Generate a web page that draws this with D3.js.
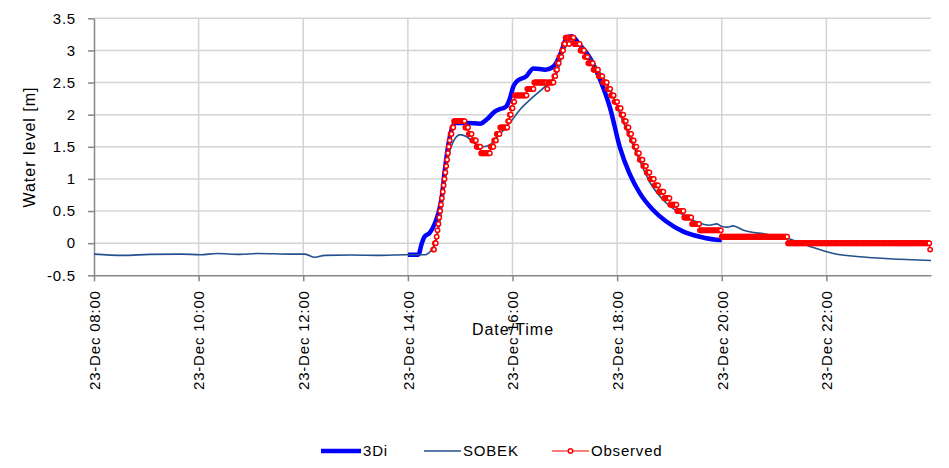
<!DOCTYPE html>
<html>
<head>
<meta charset="utf-8">
<script src="https://cdn.jsdelivr.net/npm/d3@7/dist/d3.min.js"></script>
<style>
  html, body { margin: 0; padding: 0; background: #fff; }
  svg { display: block; font-family: "Liberation Sans", Arial, sans-serif; }
</style>
</head>
<body>
<svg id="chart" width="949" height="468"></svg>
<script>
// ---------------- DATA ----------------
const xTickTimes = ["08:00", "10:00", "12:00", "14:00", "16:00", "18:00", "20:00", "22:00"];
const yTickValues = [-0.5, 0, 0.5, 1, 1.5, 2, 2.5, 3, 3.5];

// 3Di model
const times3Di = ["14:00","14:12","14:16","14:19","14:25","14:31","14:35","14:39","14:42","14:46","14:50","14:54",
  "15:07","15:23","15:30","15:40","15:46","15:49","15:53","15:57","16:01","16:05","16:16","16:24","16:38","16:46",
  "16:56","17:00","17:04","17:08","17:17","17:29","17:40","17:52","18:03","18:14","18:26","18:41","18:56","19:16",
  "19:35","19:58","20:00"];
const values3Di = [-0.18,-0.18,0.0,0.10,0.16,0.31,0.47,0.73,1.09,1.50,1.76,1.87,
  1.87,1.86,1.92,2.05,2.09,2.10,2.13,2.25,2.44,2.52,2.60,2.72,2.70,2.74,
  2.98,3.14,3.21,3.22,3.09,2.88,2.56,2.10,1.50,1.09,0.78,0.52,0.34,0.18,
  0.10,0.05,0.05];

// SOBEK model
const timesSobek = ["08:00","08:33","09:04","09:40","10:02","10:21","10:47","11:08","11:45","12:02","12:13","12:25",
  "12:54","13:28","13:57","14:20","14:24","14:29","14:37","14:42","14:46","14:52","15:00","15:07","15:19","15:26",
  "15:34","15:45","15:57","16:08","16:24","16:39","16:51","16:58","17:04","17:10","17:17","17:29","17:40","17:52",
  "18:03","18:14","18:26","18:37","18:56","19:16","19:35","19:46","19:54","20:00","20:07","20:13","20:25","20:51",
  "21:14","21:41","22:08","22:46","23:24","24:00"];
const valuesSobek = [-0.17,-0.19,-0.175,-0.17,-0.18,-0.16,-0.175,-0.16,-0.17,-0.17,-0.22,-0.19,
  -0.185,-0.19,-0.18,-0.18,-0.15,-0.06,0.36,0.88,1.30,1.58,1.69,1.66,1.53,1.50,
  1.53,1.69,1.87,2.07,2.28,2.46,2.65,2.96,3.12,3.14,3.11,2.88,2.66,2.40,
  2.02,1.66,1.28,0.96,0.63,0.44,0.31,0.28,0.30,0.26,0.25,0.27,0.20,0.14,
  0.08,-0.05,-0.16,-0.22,-0.25,-0.27];

// Observed gauge: recorded every minute, stored as the times at which the reading changed
const obsChangeTimes = ["14:29","14:31","14:33","14:34","14:35","14:36","14:37","14:38","14:39","14:40","14:41",
  "14:42","14:43","14:44","14:45","14:46","14:47","14:48","14:49","14:51","14:53","15:06","15:10","15:14","15:19",
  "15:24","15:35","15:39","15:42","15:46","15:55","15:57","15:59","16:01","16:03","16:17","16:25","16:40","16:41",
  "16:48","16:50","16:52","16:54","16:57","16:59","17:01","17:05","17:06","17:11","17:18","17:23","17:27","17:33",
  "17:39","17:44","17:49","17:53","17:57","18:01","18:05","18:08","18:11","18:14","18:17","18:20","18:23","18:26",
  "18:30","18:34","18:38","18:43","18:48","18:54","19:01","19:09","19:17","19:26","19:35","20:00","21:16","23:59"];
const obsLevels = [-0.1,0.0,0.1,0.2,0.3,0.4,0.5,0.6,0.7,0.8,0.9,
  1.0,1.1,1.2,1.3,1.4,1.5,1.6,1.7,1.8,1.9,1.8,1.7,1.6,1.5,
  1.4,1.5,1.6,1.7,1.8,1.9,2.0,2.1,2.2,2.3,2.4,2.5,2.4,2.5,
  2.6,2.7,2.8,2.9,3.0,3.1,3.2,3.1,3.2,3.1,3.0,2.9,2.8,2.7,
  2.6,2.5,2.4,2.3,2.2,2.1,2.0,1.9,1.8,1.7,1.6,1.5,1.4,1.3,
  1.2,1.1,1.0,0.9,0.8,0.7,0.6,0.5,0.4,0.3,0.2,0.1,0.0,-0.1];
const obsEndTime = "23:59";
const obsIntervalMinutes = 1;

const seriesNames = ["3Di", "SOBEK", "Observed"];

// ---------------- BUILD ----------------
const parseT = s => { const [h, m] = s.split(":").map(Number); return new Date(2013, 11, 23, h, m); };
const fmtTick = d3.timeFormat("%d-%b %H:%M");

const data3Di = times3Di.map((t, i) => ({ t: parseT(t), v: values3Di[i] }));
const dataSobek = timesSobek.map((t, i) => ({ t: parseT(t), v: valuesSobek[i] }));
const obsChanges = obsChangeTimes.map((t, i) => ({ t: parseT(t), v: obsLevels[i] }));
const dataObs = [];
{
  const start = obsChanges[0].t, end = parseT(obsEndTime);
  let k = 0;
  for (let d = new Date(start); d <= end; d = d3.timeMinute.offset(d, obsIntervalMinutes)) {
    while (k + 1 < obsChanges.length && obsChanges[k + 1].t <= d) k++;
    dataObs.push({ t: new Date(d), v: obsChanges[k].v });
  }
}

const svg = d3.select("#chart");
const pLeft = 94, pRight = 931, pTop = 18.3, pBottom = 275.3;

const x = d3.scaleTime().domain([parseT("08:00"), parseT("24:00")]).range([pLeft, pRight]);
const y = d3.scaleLinear().domain([-0.5, 3.5]).range([pBottom, pTop]);

const gridColor = "#d4d4d4";
const axisColor = "#868686";

// gridlines
svg.append("g").selectAll("line").data(yTickValues.filter(v => v > -0.5)).join("line")
  .attr("x1", pLeft).attr("x2", pRight).attr("y1", d => y(d)).attr("y2", d => y(d))
  .attr("stroke", gridColor).attr("stroke-width", 1.5);
svg.append("g").selectAll("line").data(xTickTimes.slice(1).map(parseT)).join("line")
  .attr("x1", d => x(d)).attr("x2", d => x(d)).attr("y1", pTop).attr("y2", pBottom)
  .attr("stroke", gridColor).attr("stroke-width", 1.5);

// axes
const yAxis = svg.append("g").attr("transform", `translate(${pLeft},0)`)
  .call(d3.axisLeft(y).tickValues(yTickValues).tickSize(6).tickSizeOuter(0).tickPadding(12).tickFormat(d => String(d)));
const xAxis = svg.append("g").attr("transform", `translate(0,${pBottom})`)
  .call(d3.axisBottom(x).tickValues(xTickTimes.map(parseT)).tickSize(6).tickSizeOuter(0).tickFormat(fmtTick));
[yAxis, xAxis].forEach(g => {
  g.select(".domain").attr("stroke", axisColor).attr("stroke-width", 1.5);
  g.selectAll(".tick line").attr("stroke", axisColor).attr("stroke-width", 1.5);
  g.selectAll("text").attr("fill", "#000").style("font-size", "15px").style("letter-spacing", "0.8px")
    .style("font-family", '"Liberation Sans", Arial, sans-serif');
});
xAxis.selectAll(".tick text")
  .attr("transform", "rotate(-90)")
  .attr("text-anchor", "end")
  .attr("x", -15).attr("y", 0).attr("dy", "0.35em");

// axis titles
svg.append("text").attr("transform", "translate(29,147) rotate(-90)")
  .attr("text-anchor", "middle").attr("dy", "0.35em")
  .style("font-size", "16px").style("letter-spacing", "1px").attr("fill", "#000")
  .text("Water level [m]");
svg.append("text").attr("x", 513).attr("y", 329).attr("text-anchor", "middle").attr("dy", "0.35em")
  .style("font-size", "16px").style("letter-spacing", "1px").attr("fill", "#000")
  .text("Date/Time");

// series
const smoothLine = d3.line().curve(d3.curveMonotoneX).x(d => x(d.t)).y(d => y(d.v));
const line = d3.line().x(d => x(d.t)).y(d => y(d.v));
const plot = svg.append("g");
plot.append("path").datum(data3Di).attr("d", smoothLine)
  .attr("fill", "none").attr("stroke", "#0000ff").attr("stroke-width", 4.5).attr("stroke-linejoin", "round");
plot.append("path").datum(dataSobek).attr("d", smoothLine)
  .attr("fill", "none").attr("stroke", "#24508e").attr("stroke-width", 1.6).attr("stroke-linejoin", "round");
plot.append("path").datum(dataObs).attr("d", line)
  .attr("fill", "none").attr("stroke", "#ff0000").attr("stroke-width", 1.2);
plot.append("g").selectAll("circle").data(dataObs).join("circle")
  .attr("cx", d => x(d.t)).attr("cy", d => y(d.v)).attr("r", 2.2)
  .attr("fill", "#fff").attr("stroke", "#ff0000").attr("stroke-width", 1.5);

// legend
const lg = svg.append("g").attr("transform", "translate(0,451)");
const legendItems = [
  { name: seriesNames[0], x1: 321, x2: 361, color: "#0000ff", w: 4.5, marker: false },
  { name: seriesNames[1], x1: 424, x2: 461, color: "#24508e", w: 1.6, marker: false },
  { name: seriesNames[2], x1: 552, x2: 589, color: "#ff0000", w: 1.2, marker: true }
];
legendItems.forEach(it => {
  lg.append("line").attr("x1", it.x1).attr("x2", it.x2).attr("y1", 0).attr("y2", 0)
    .attr("stroke", it.color).attr("stroke-width", it.w);
  if (it.marker) lg.append("circle").attr("cx", (it.x1 + it.x2) / 2).attr("cy", 0).attr("r", 2.2)
    .attr("fill", "#fff").attr("stroke", it.color).attr("stroke-width", 1.5);
  lg.append("text").attr("x", it.x2 + 2).attr("y", 0).attr("dy", "0.35em")
    .style("font-size", "15px").style("letter-spacing", "0.8px").attr("fill", "#000").text(it.name);
});
</script>
</body>
</html>
